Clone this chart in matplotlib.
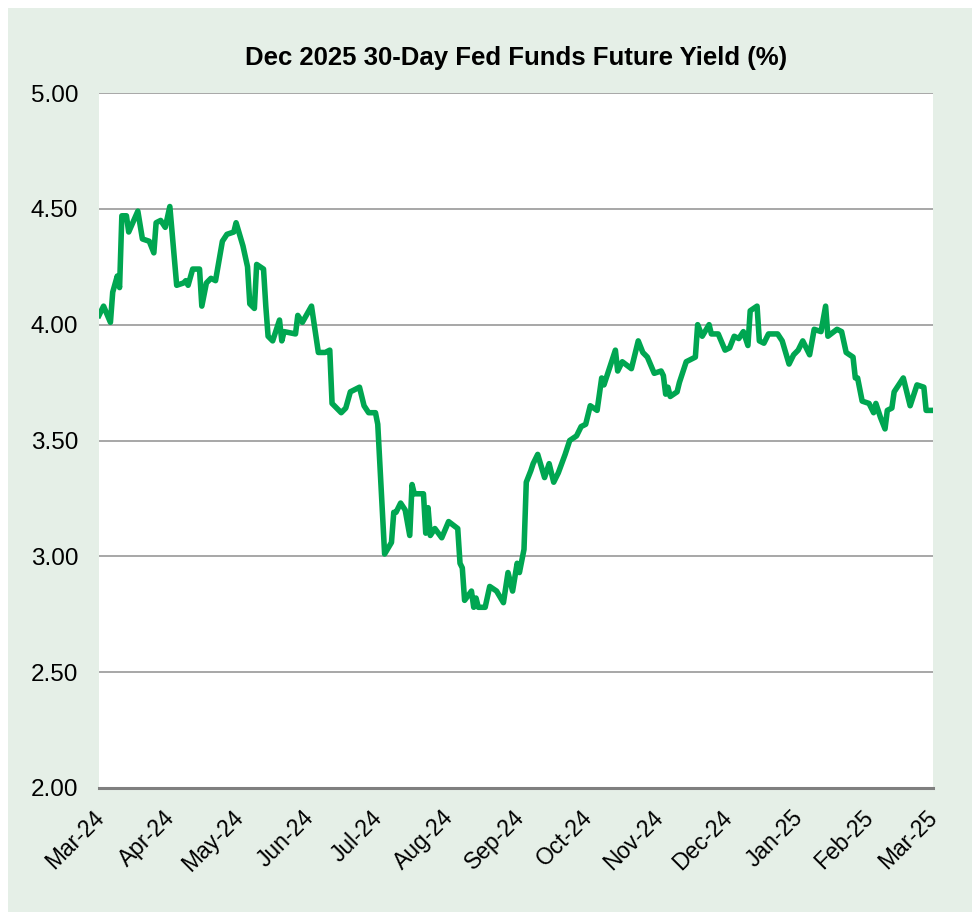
import matplotlib
matplotlib.use('Agg')
import matplotlib.pyplot as plt
import matplotlib.dates as mdates
import matplotlib.transforms as mtransforms
from matplotlib.patches import Rectangle
from matplotlib.ticker import FormatStrFormatter
import pandas as pd

plt.rcParams['font.family'] = ['Liberation Sans', 'DejaVu Sans']

# Dec 2025 30-Day Fed Funds future implied yield
dates = [
    '2024-03-01', '2024-03-03', '2024-03-06', '2024-03-07', '2024-03-09', '2024-03-10',
    '2024-03-11', '2024-03-13', '2024-03-14', '2024-03-18', '2024-03-20', '2024-03-23',
    '2024-03-25', '2024-03-26', '2024-03-28', '2024-03-30', '2024-04-01', '2024-04-04',
    '2024-04-07', '2024-04-08', '2024-04-09', '2024-04-11', '2024-04-14', '2024-04-15',
    '2024-04-17', '2024-04-19', '2024-04-21', '2024-04-24', '2024-04-26', '2024-04-29',
    '2024-04-30', '2024-05-03', '2024-05-05', '2024-05-06', '2024-05-08', '2024-05-09',
    '2024-05-12', '2024-05-13', '2024-05-14', '2024-05-16', '2024-05-19', '2024-05-20',
    '2024-05-21', '2024-05-26', '2024-05-27', '2024-05-29', '2024-06-02', '2024-06-05',
    '2024-06-08', '2024-06-10', '2024-06-11', '2024-06-15', '2024-06-17', '2024-06-19',
    '2024-06-23', '2024-06-25', '2024-06-27', '2024-06-30', '2024-07-01', '2024-07-04',
    '2024-07-07', '2024-07-08', '2024-07-09', '2024-07-11', '2024-07-13', '2024-07-15',
    '2024-07-16', '2024-07-17', '2024-07-21', '2024-07-22', '2024-07-23', '2024-07-24',
    '2024-07-26', '2024-07-29', '2024-08-01', '2024-08-05', '2024-08-06', '2024-08-07',
    '2024-08-08', '2024-08-11', '2024-08-12', '2024-08-13', '2024-08-14', '2024-08-17',
    '2024-08-19', '2024-08-22', '2024-08-25', '2024-08-27', '2024-08-29', '2024-08-31',
    '2024-09-01', '2024-09-03', '2024-09-04', '2024-09-06', '2024-09-07', '2024-09-09',
    '2024-09-12', '2024-09-14', '2024-09-16', '2024-09-18', '2024-09-21', '2024-09-23',
    '2024-09-26', '2024-09-28', '2024-09-30', '2024-10-02', '2024-10-05', '2024-10-07',
    '2024-10-08', '2024-10-11', '2024-10-13', '2024-10-14', '2024-10-16', '2024-10-20',
    '2024-10-23', '2024-10-25', '2024-10-27', '2024-10-30', '2024-11-02', '2024-11-03',
    '2024-11-04', '2024-11-05', '2024-11-06', '2024-11-09', '2024-11-10', '2024-11-13',
    '2024-11-17', '2024-11-18', '2024-11-20', '2024-11-23', '2024-11-24', '2024-11-27',
    '2024-11-30', '2024-12-02', '2024-12-04', '2024-12-06', '2024-12-08', '2024-12-10',
    '2024-12-11', '2024-12-14', '2024-12-15', '2024-12-17', '2024-12-19', '2024-12-23',
    '2024-12-25', '2024-12-28', '2024-12-30', '2025-01-01', '2025-01-03', '2025-01-06',
    '2025-01-08', '2025-01-11', '2025-01-13', '2025-01-14', '2025-01-18', '2025-01-20',
    '2025-01-22', '2025-01-25', '2025-01-26', '2025-01-27', '2025-01-29', '2025-02-01',
    '2025-02-02', '2025-02-03', '2025-02-04', '2025-02-06', '2025-02-08', '2025-02-09',
    '2025-02-11', '2025-02-12', '2025-02-16', '2025-02-19', '2025-02-22', '2025-02-25',
    '2025-02-26', '2025-03-01',
]
yields = [
    4.04, 4.08, 4.01, 4.14, 4.21, 4.16,
    4.47, 4.47, 4.40, 4.49, 4.37, 4.36,
    4.31, 4.44, 4.45, 4.42, 4.51, 4.17,
    4.18, 4.19, 4.17, 4.24, 4.24, 4.08,
    4.18, 4.20, 4.19, 4.36, 4.39, 4.40,
    4.44, 4.34, 4.25, 4.09, 4.07, 4.26,
    4.24, 4.08, 3.95, 3.93, 4.02, 3.93,
    3.97, 3.96, 4.04, 4.01, 4.08, 3.88,
    3.88, 3.89, 3.66, 3.62, 3.64, 3.71,
    3.73, 3.65, 3.62, 3.62, 3.57, 3.01,
    3.06, 3.19, 3.19, 3.23, 3.20, 3.09,
    3.31, 3.27, 3.27, 3.10, 3.21, 3.09,
    3.12, 3.08, 3.15, 3.12, 2.97, 2.95,
    2.81, 2.85, 2.78, 2.82, 2.78, 2.78,
    2.87, 2.85, 2.80, 2.93, 2.85, 2.97,
    2.93, 3.03, 3.32, 3.37, 3.40, 3.44,
    3.34, 3.40, 3.32, 3.36, 3.44, 3.50,
    3.52, 3.56, 3.57, 3.65, 3.63, 3.77,
    3.74, 3.83, 3.89, 3.80, 3.84, 3.81,
    3.93, 3.88, 3.86, 3.79, 3.80, 3.78,
    3.70, 3.73, 3.69, 3.71, 3.75, 3.84,
    3.86, 4.00, 3.95, 4.00, 3.96, 3.96,
    3.89, 3.90, 3.95, 3.94, 3.97, 3.91,
    4.06, 4.08, 3.93, 3.92, 3.96, 3.96,
    3.93, 3.83, 3.87, 3.89, 3.93, 3.87,
    3.98, 3.97, 4.08, 3.95, 3.98, 3.97,
    3.88, 3.86, 3.77, 3.77, 3.67, 3.66,
    3.64, 3.62, 3.66, 3.60, 3.55, 3.63,
    3.64, 3.71, 3.77, 3.65, 3.74, 3.73,
    3.63, 3.63,
]

title = 'Dec 2025 30-Day Fed Funds Future Yield (%)'
x_start = '2024-03-01'
x_end = '2025-03-01'
y_ticks = [2.0, 2.5, 3.0, 3.5, 4.0, 4.5, 5.0]

df = pd.DataFrame({'date': pd.to_datetime(dates), 'yield': yields})

fig = plt.figure(figsize=(9.72, 9.15), dpi=100, facecolor='white')
# light green panel behind everything
fig.patches.append(Rectangle((8 / 972, 3 / 915), 1 - 8 / 972, 1 - 11 / 915,
                             transform=fig.transFigure, facecolor='#e5efe7',
                             edgecolor='none', zorder=-10))

ax = fig.add_axes([99 / 972, 1 - 788 / 915, 834 / 972, 695 / 915])
ax.set_facecolor('white')

ax.plot(df['date'], df['yield'], color='#00a651', linewidth=4.0,
        solid_joinstyle='round', zorder=3)

ax.set_xlim(pd.Timestamp(x_start), pd.Timestamp(x_end))
ax.set_ylim(2.0, 5.0)
ax.set_yticks(y_ticks)
ax.yaxis.set_major_formatter(FormatStrFormatter('%.2f'))
ax.xaxis.set_major_locator(mdates.MonthLocator())
ax.xaxis.set_major_formatter(mdates.DateFormatter('%b-%y'))

ax.grid(axis='y', color='#a0a0a0', linewidth=1.3)
ax.set_axisbelow(True)
for side in ['top', 'right', 'left']:
    ax.spines[side].set_visible(False)
ax.spines['bottom'].set_color('#7f7f7f')
ax.spines['bottom'].set_linewidth(2.2)
ax.spines['bottom'].set_zorder(4)

ax.tick_params(axis='y', length=0, pad=15, labelsize=17.5)
ax.tick_params(axis='x', length=0, pad=10, labelsize=16.5)
shift = mtransforms.ScaledTranslation(-5 / 72, -3 / 72, fig.dpi_scale_trans)
for lbl in ax.get_xticklabels():
    lbl.set_rotation(45)
    lbl.set_ha('right')
    lbl.set_rotation_mode('anchor')
    lbl.set_transform(lbl.get_transform() + shift)

ax.set_title(title, fontsize=18.5, fontweight='bold', pad=20)

plt.savefig('out.png', dpi=100)
